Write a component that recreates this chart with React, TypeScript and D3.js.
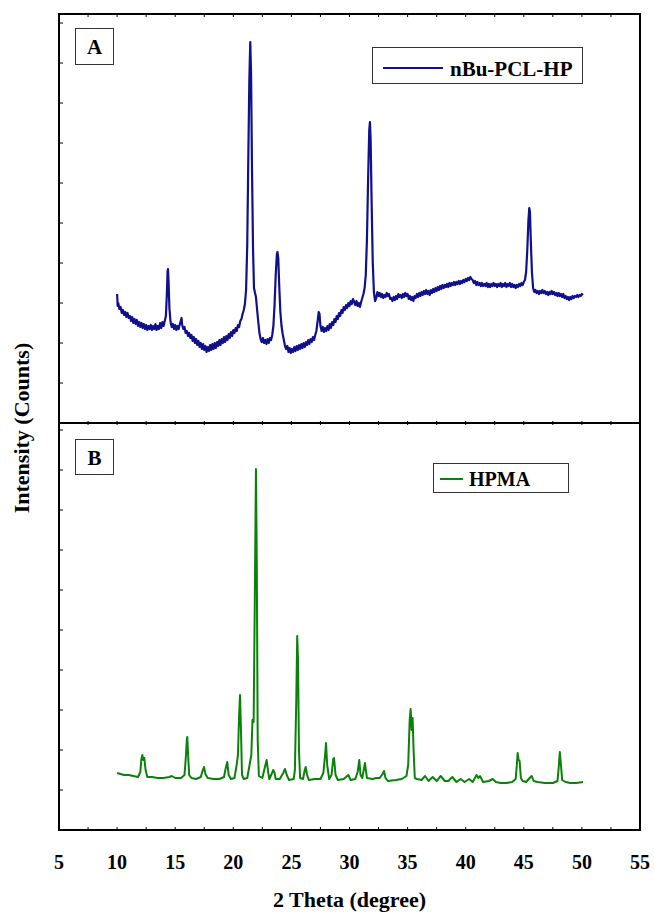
import React from "react";
import * as d3 from "d3";

// 2 theta (degree), intensity (counts)
const nbuPclHp: [number, number][] = [
  [10.0, 129], [10.05, 117], [10.1, 120], [10.2, 114], [10.3, 116], [10.4, 110], [10.5, 113], [10.6, 108],
  [10.7, 111], [10.8, 106], [10.9, 110], [11.0, 105], [11.1, 107], [11.2, 102], [11.3, 106], [11.4, 100],
  [11.5, 104], [11.6, 99], [11.7, 103], [11.8, 97], [11.9, 101], [12.0, 96], [12.1, 100], [12.2, 95],
  [12.3, 99], [12.4, 94], [12.5, 98], [12.6, 93], [12.7, 97], [12.8, 94], [12.9, 98], [13.0, 93],
  [13.1, 97], [13.2, 94], [13.3, 99], [13.4, 93], [13.5, 97], [13.6, 94], [13.7, 100], [13.8, 95],
  [13.9, 101], [14.0, 97], [14.1, 102], [14.2, 107], [14.28, 128], [14.34, 151], [14.38, 154], [14.43, 141],
  [14.5, 115], [14.6, 101], [14.7, 96], [14.8, 99], [14.9, 94], [15.0, 98], [15.1, 93], [15.2, 97],
  [15.3, 94], [15.4, 99], [15.5, 103], [15.55, 105], [15.6, 98], [15.7, 94], [15.8, 96], [15.9, 90],
  [16.0, 92], [16.1, 87], [16.2, 90], [16.3, 85], [16.4, 88], [16.5, 82], [16.6, 86], [16.7, 80],
  [16.8, 84], [16.9, 78], [17.0, 82], [17.1, 76], [17.2, 80], [17.3, 74], [17.4, 79], [17.5, 73],
  [17.6, 77], [17.7, 71], [17.8, 76], [17.9, 72], [18.0, 78], [18.1, 73], [18.2, 79], [18.3, 74],
  [18.4, 80], [18.5, 75], [18.6, 81], [18.7, 77], [18.8, 83], [18.9, 78], [19.0, 84], [19.1, 80],
  [19.2, 86], [19.3, 81], [19.4, 87], [19.5, 83], [19.6, 89], [19.7, 85], [19.8, 91], [19.9, 87],
  [20.0, 93], [20.1, 90], [20.2, 95], [20.3, 92], [20.4, 98], [20.5, 96], [20.6, 102], [20.7, 104],
  [20.8, 109], [20.9, 113], [21.0, 119], [21.1, 133], [21.2, 178], [21.3, 273], [21.38, 343], [21.46, 381],
  [21.53, 348], [21.6, 263], [21.7, 173], [21.78, 135], [21.87, 130], [21.95, 126], [22.05, 113], [22.15, 101],
  [22.25, 90], [22.35, 84], [22.45, 81], [22.55, 85], [22.65, 80], [22.75, 83], [22.85, 79], [22.95, 84],
  [23.05, 80], [23.15, 85], [23.25, 83], [23.35, 88], [23.45, 97], [23.55, 118], [23.65, 148], [23.75, 169],
  [23.8, 171], [23.87, 165], [23.95, 138], [24.05, 111], [24.15, 97], [24.25, 89], [24.35, 83], [24.45, 77],
  [24.55, 74], [24.65, 77], [24.75, 71], [24.85, 75], [24.95, 70], [25.05, 74], [25.15, 71], [25.25, 76],
  [25.35, 72], [25.45, 77], [25.55, 73], [25.65, 78], [25.75, 74], [25.85, 79], [25.95, 75], [26.05, 80],
  [26.15, 76], [26.25, 81], [26.35, 78], [26.45, 83], [26.55, 79], [26.65, 84], [26.75, 81], [26.85, 86],
  [26.95, 83], [27.05, 88], [27.15, 92], [27.25, 101], [27.35, 111], [27.42, 109], [27.5, 97], [27.6, 92],
  [27.7, 96], [27.8, 91], [27.9, 95], [28.0, 92], [28.1, 97], [28.2, 93], [28.3, 99], [28.4, 95],
  [28.5, 101], [28.6, 98], [28.7, 104], [28.8, 101], [28.9, 107], [29.0, 104], [29.1, 110], [29.2, 107],
  [29.3, 113], [29.4, 110], [29.5, 116], [29.6, 113], [29.7, 118], [29.8, 115], [29.9, 120], [30.0, 117],
  [30.1, 122], [30.2, 119], [30.3, 124], [30.4, 121], [30.5, 118], [30.6, 122], [30.7, 117], [30.8, 120],
  [30.9, 116], [31.0, 121], [31.1, 125], [31.2, 129], [31.3, 135], [31.4, 148], [31.5, 183], [31.6, 243],
  [31.7, 293], [31.76, 301], [31.82, 283], [31.9, 223], [32.0, 161], [32.1, 131], [32.2, 122], [32.3, 125],
  [32.4, 131], [32.5, 127], [32.6, 130], [32.7, 126], [32.8, 129], [32.9, 125], [33.0, 128], [33.1, 126],
  [33.2, 130], [33.3, 127], [33.4, 129], [33.5, 124], [33.6, 125], [33.7, 122], [33.8, 126], [33.9, 123],
  [34.0, 127], [34.1, 124], [34.2, 129], [34.3, 126], [34.4, 128], [34.5, 125], [34.6, 129], [34.7, 126],
  [34.8, 130], [34.9, 127], [35.0, 129], [35.1, 124], [35.2, 127], [35.3, 123], [35.4, 126], [35.5, 122],
  [35.6, 127], [35.7, 125], [35.8, 129], [35.9, 126], [36.0, 130], [36.1, 127], [36.2, 131], [36.3, 128],
  [36.4, 132], [36.5, 129], [36.6, 133], [36.7, 129], [36.8, 132], [36.9, 128], [37.0, 133], [37.1, 130],
  [37.2, 134], [37.3, 131], [37.4, 135], [37.5, 132], [37.6, 136], [37.7, 133], [37.8, 137], [37.9, 134],
  [38.0, 138], [38.1, 135], [38.2, 138], [38.3, 136], [38.4, 139], [38.5, 136], [38.6, 140], [38.7, 137],
  [38.8, 140], [38.9, 138], [39.0, 141], [39.1, 138], [39.2, 141], [39.3, 139], [39.4, 142], [39.5, 139],
  [39.6, 142], [39.7, 140], [39.8, 143], [39.9, 141], [40.0, 144], [40.1, 142], [40.2, 145], [40.3, 143],
  [40.4, 146], [40.5, 144], [40.6, 143], [40.7, 140], [40.8, 142], [40.9, 138], [41.0, 141], [41.1, 138],
  [41.2, 140], [41.3, 137], [41.4, 140], [41.5, 137], [41.6, 139], [41.7, 137], [41.8, 140], [41.9, 136],
  [42.0, 139], [42.1, 136], [42.2, 139], [42.3, 137], [42.4, 140], [42.5, 137], [42.6, 139], [42.7, 136],
  [42.8, 139], [42.9, 137], [43.0, 140], [43.1, 136], [43.2, 139], [43.3, 137], [43.4, 140], [43.5, 136],
  [43.6, 139], [43.7, 137], [43.8, 140], [43.9, 136], [44.0, 139], [44.1, 136], [44.2, 138], [44.3, 135],
  [44.4, 138], [44.5, 136], [44.6, 139], [44.7, 137], [44.8, 140], [44.9, 138], [45.0, 141], [45.1, 143],
  [45.2, 151], [45.3, 173], [45.4, 203], [45.47, 215], [45.53, 211], [45.6, 183], [45.7, 151], [45.8, 135],
  [45.9, 131], [46.0, 133], [46.1, 130], [46.2, 132], [46.3, 129], [46.4, 132], [46.5, 130], [46.6, 133],
  [46.7, 130], [46.8, 132], [46.9, 129], [47.0, 131], [47.1, 128], [47.2, 131], [47.3, 129], [47.4, 132],
  [47.5, 129], [47.6, 131], [47.7, 128], [47.8, 130], [47.9, 127], [48.0, 130], [48.1, 127], [48.2, 129],
  [48.3, 126], [48.4, 129], [48.5, 125], [48.6, 127], [48.7, 124], [48.8, 126], [48.9, 123], [49.0, 126],
  [49.1, 124], [49.2, 127], [49.3, 125], [49.4, 127], [49.5, 126], [49.6, 128], [49.7, 126], [49.8, 128],
  [49.9, 127], [50.0, 129], [50.1, 128],
];

const hpma: [number, number][] = [
  [10.0, 57], [10.3, 56], [10.6, 55], [11.0, 55], [11.4, 54], [11.8, 53], [12.0, 58], [12.08, 70],
  [12.17, 75], [12.25, 70], [12.34, 72], [12.45, 60], [12.6, 53], [13.0, 53], [13.5, 52], [14.0, 52],
  [14.5, 53], [14.7, 54], [15.0, 52], [15.5, 52], [15.8, 55], [15.9, 70], [16.0, 90], [16.04, 93],
  [16.1, 78], [16.2, 55], [16.4, 52], [16.8, 51], [17.2, 53], [17.35, 59], [17.48, 63], [17.6, 56],
  [17.8, 52], [18.3, 51], [18.8, 51], [19.2, 53], [19.35, 62], [19.48, 68], [19.6, 55], [19.8, 51],
  [20.1, 52], [20.3, 66], [20.4, 75], [20.5, 115], [20.58, 135], [20.66, 100], [20.75, 55], [20.9, 51],
  [21.2, 52], [21.4, 65], [21.55, 75], [21.65, 110], [21.75, 108], [21.85, 230], [21.95, 361], [22.02, 270],
  [22.1, 90], [22.2, 54], [22.5, 52], [22.7, 62], [22.87, 70], [23.0, 58], [23.1, 51], [23.3, 56],
  [23.43, 60], [23.53, 58], [23.65, 51], [24.0, 51], [24.3, 57], [24.45, 61], [24.6, 55], [24.8, 50],
  [25.2, 51], [25.3, 60], [25.42, 130], [25.5, 194], [25.57, 170], [25.65, 80], [25.75, 52], [26.0, 51],
  [26.15, 60], [26.23, 63], [26.35, 55], [26.5, 50], [27.0, 51], [27.5, 51], [27.75, 57], [27.9, 75],
  [27.98, 87], [28.08, 65], [28.25, 51], [28.45, 55], [28.6, 71], [28.67, 72], [28.8, 55], [29.0, 50],
  [29.5, 51], [29.9, 55], [30.1, 50], [30.5, 51], [30.7, 58], [30.84, 70], [30.95, 55], [31.1, 52],
  [31.33, 67], [31.5, 52], [32.0, 51], [32.3, 52], [32.6, 52], [32.85, 56], [32.97, 59], [33.1, 52],
  [33.3, 49], [34.0, 50], [34.5, 51], [34.9, 54], [35.05, 65], [35.18, 110], [35.26, 121], [35.35, 100],
  [35.43, 112], [35.52, 78], [35.62, 52], [35.8, 51], [36.2, 50], [36.5, 54], [36.8, 49], [37.16, 53],
  [37.5, 49], [37.85, 54], [38.2, 49], [38.5, 49], [38.85, 53], [39.2, 48], [39.57, 51], [39.9, 48],
  [40.3, 51], [40.6, 48], [40.94, 55], [41.1, 52], [41.23, 54], [41.5, 48], [42.0, 49], [42.32, 51],
  [42.6, 48], [43.0, 47], [43.5, 47], [44.0, 48], [44.3, 51], [44.4, 65], [44.47, 77], [44.55, 70],
  [44.64, 69], [44.75, 52], [44.9, 49], [45.2, 48], [45.5, 52], [45.68, 54], [45.85, 49], [46.2, 48],
  [46.8, 47], [47.5, 47], [47.9, 49], [48.0, 62], [48.1, 78], [48.2, 65], [48.3, 50], [48.6, 48],
  [49.0, 47], [49.5, 47], [50.1, 48],
];

const xTickValues = [5, 10, 15, 20, 25, 30, 35, 40, 45, 50, 55];
const panelNames = ["A", "B"];
const legendNames = ["nBu-PCL-HP", "HPMA"];
const lineColors = ["#10108c", "#0a820a"];

const W = 654;
const H = 912;
const left = 59;
const right = 640;
const top = 14;
const mid = 423;
const bottom = 830;
const serif = { fontFamily: "Liberation Serif", fontWeight: 700 };

const App = () => {
  const x = d3.scaleLinear().domain([5, 55]).range([left, right]);
  const yA = d3.scaleLinear().domain([0, 409]).range([mid, top]);
  const yB = d3.scaleLinear().domain([0, 407]).range([bottom, mid]);

  const lineA = d3.line<[number, number]>().x((d) => x(d[0])).y((d) => yA(d[1]));
  const lineB = d3.line<[number, number]>().x((d) => x(d[0])).y((d) => yB(d[1]));

  const minorX = d3.range(5, 55.01, 2.5);
  const leftTicksA = d3.range(40, 409, 40);
  const leftTicksB = d3.range(40, 407, 40);

  return (
    <svg
      width={W}
      height={H}
      style={{ position: "absolute", left: 0, top: 0, display: "block", background: "#fff" }}
    >
      {/* curves */}
      <path d={lineA(nbuPclHp) || ""} fill="none" stroke={lineColors[0]} strokeWidth={2.2} strokeLinejoin="round" />
      <path d={lineB(hpma) || ""} fill="none" stroke={lineColors[1]} strokeWidth={2} strokeLinejoin="round" />

      {/* ticks */}
      <g stroke="#000" strokeWidth={1}>
        {minorX.map((t) => (
          <g key={"t" + t}>
            <line x1={x(t)} x2={x(t)} y1={top} y2={top + 3} />
            <line x1={x(t)} x2={x(t)} y1={mid - 2} y2={mid + 2} />
            <line x1={x(t)} x2={x(t)} y1={bottom} y2={bottom - 3} />
          </g>
        ))}
        {leftTicksA.map((t) => (
          <line key={"a" + t} x1={left} x2={left + 4} y1={yA(t)} y2={yA(t)} />
        ))}
        {leftTicksB.map((t) => (
          <line key={"b" + t} x1={left} x2={left + 4} y1={yB(t)} y2={yB(t)} />
        ))}
      </g>

      {/* frame */}
      <rect x={left} y={top} width={right - left} height={bottom - top} fill="none" stroke="#000" strokeWidth={2} />
      <line x1={left} x2={right} y1={mid} y2={mid} stroke="#000" strokeWidth={2} />

      {/* panel labels */}
      <rect x={75.5} y={28.5} width={38} height={36} fill="#fff" stroke="#333" strokeWidth={1} />
      <text x={94.5} y={54} textAnchor="middle" fontSize={21} style={serif}>{panelNames[0]}</text>
      <rect x={75.5} y={439.5} width={38} height={35} fill="#fff" stroke="#333" strokeWidth={1} />
      <text x={94.5} y={465} textAnchor="middle" fontSize={21} style={serif}>{panelNames[1]}</text>

      {/* legends */}
      <rect x={372.5} y={47.5} width={210} height={36} fill="#fff" stroke="#333" strokeWidth={1} />
      <line x1={383} x2={443} y1={68} y2={68} stroke={lineColors[0]} strokeWidth={2} />
      <text x={450} y={76} fontSize={21} style={serif}>{legendNames[0]}</text>
      <rect x={433.5} y={463.5} width={135} height={29} fill="#fff" stroke="#333" strokeWidth={1} />
      <line x1={440} x2={463} y1={479} y2={479} stroke={lineColors[1]} strokeWidth={2} />
      <text x={469} y={486} fontSize={20} style={serif}>{legendNames[1]}</text>

      {/* x tick labels */}
      {xTickValues.map((t) => (
        <text key={"l" + t} x={x(t)} y={869} textAnchor="middle" fontSize={20} style={serif}>
          {t}
        </text>
      ))}

      {/* axis titles */}
      <text x={(left + right) / 2} y={907} textAnchor="middle" fontSize={22} style={serif}>
        2 Theta (degree)
      </text>
      <text
        transform={`translate(29, 428) rotate(-90)`}
        textAnchor="middle"
        fontSize={22}
        style={serif}
      >
        Intensity (Counts)
      </text>
    </svg>
  );
};

export default App;
